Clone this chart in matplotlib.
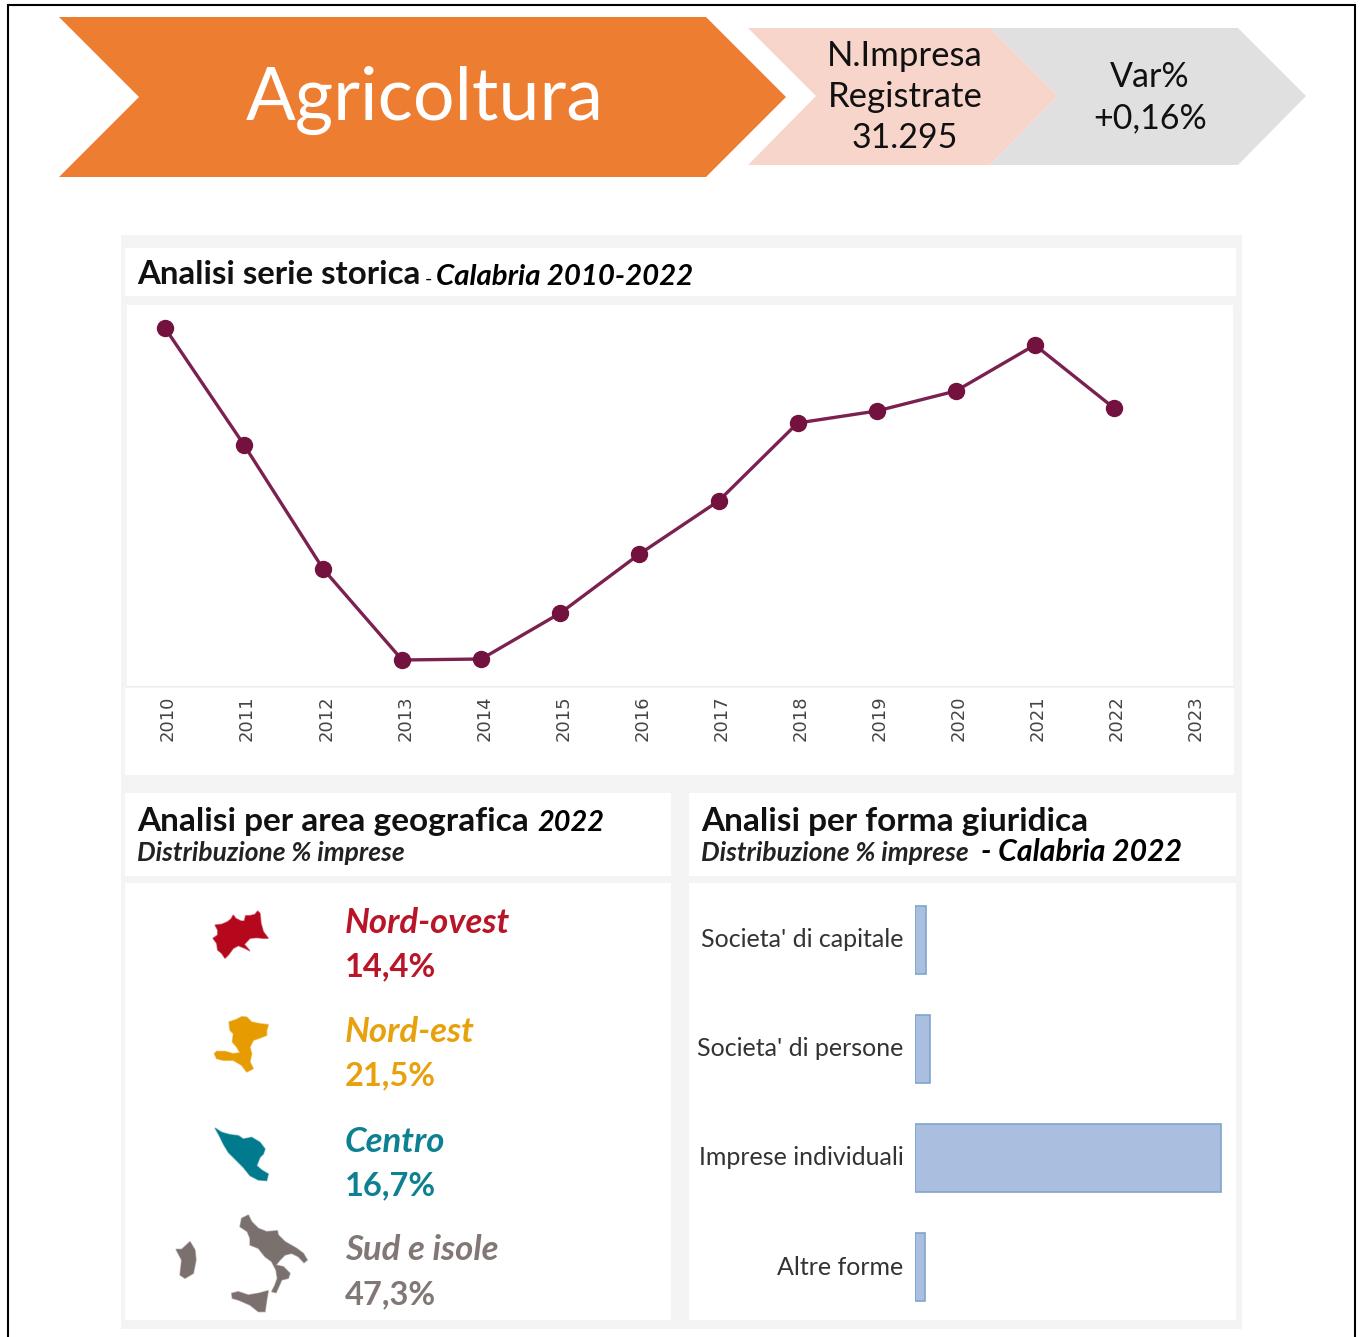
import matplotlib
matplotlib.use("Agg")
import matplotlib.pyplot as plt
from matplotlib.colors import to_rgba
from matplotlib.patches import Polygon, Rectangle
from matplotlib.transforms import ScaledTranslation

plt.rcParams['font.family'] = ['Lato', 'DejaVu Sans']

# data (no y scale shown, values estimated around 31.295 in 2022)
years = [2010, 2011, 2012, 2013, 2014, 2015, 2016, 2017, 2018, 2019, 2020, 2021, 2022]
imprese = [31695, 31110, 30490, 30035, 30040, 30270, 30565, 30830, 31220, 31280, 31380, 31610, 31295]
year_ticks = [2010, 2011, 2012, 2013, 2014, 2015, 2016, 2017, 2018, 2019, 2020, 2021, 2022, 2023]

forme = ["Societa' di capitale", "Societa' di persone", "Imprese individuali", "Altre forme"]
forme_pct = [3.2, 4.3, 89.5, 3.0]

aree = ["Nord-ovest", "Nord-est", "Centro", "Sud e isole"]
aree_lab = ["14,4%", "21,5%", "16,7%", "47,3%"]
aree_col = ["#B5081C", "#E69C00", "#007A8C", "#7A706E"]

W, H = 1360, 1337
fig = plt.figure(figsize=(13.6, 13.37), dpi=100, facecolor='white')

# background layer in pixel coords
bg = fig.add_axes([0, 0, 1, 1])
bg.set_xlim(0, W)
bg.set_ylim(H, 0)
bg.axis('off')


def panel(x0, y0, x1, y1, col='white'):
    bg.add_patch(Rectangle((x0, y0), x1 - x0, y1 - y0, fc=col, ec='none'))


def txt(x, y, s, size, **kw):
    bg.text(x, y, s, fontsize=size, va='baseline', **kw)


def axes_px(x0, y0, x1, y1):
    return fig.add_axes([x0 / W, 1 - y1 / H, (x1 - x0) / W, (y1 - y0) / H])


# black frame
bg.plot([8, 8, 1355, 1355], [H, 5, 5, H], color='black', lw=1.5, solid_joinstyle='miter')

# header arrows
bg.add_patch(Polygon([(59, 17), (706, 17), (786, 97), (706, 177), (59, 177), (139, 97)], fc='#ED7D31', ec='none'))
bg.add_patch(Polygon([(748, 28), (990, 28), (1058, 96), (990, 165), (748, 165), (816, 96)], fc='#F8D5CA', ec='none'))
bg.add_patch(Polygon([(990, 28), (1238, 28), (1306, 96), (1238, 165), (990, 165), (1058, 96)], fc='#E0E0E0', ec='none'))
txt(425, 120, "Agricoltura", 53, color='white', ha='center')
txt(905, 66, "N.Impresa", 25, color='#111111', ha='center')
txt(905, 107, "Registrate", 25, color='#111111', ha='center')
txt(905, 148, "31.295", 24.5, color='#111111', ha='center')
txt(1150, 87, "Var%", 24.5, color='#111111', ha='center')
txt(1150, 128, "+0,16%", 24.5, color='#111111', ha='center')

# dashboard panels
panel(121, 235, 1242, 1329, '#F4F4F4')
panel(125, 248, 1236, 296)
panel(127, 305, 1233, 686)
panel(125, 688, 1234, 775)
panel(125, 793, 671, 876)
panel(689, 793, 1236, 876)
panel(125, 883, 671, 1320)
panel(689, 883, 1236, 1320)

txt(137, 284, "Analisi serie storica", 23.8, weight='bold', color='#111111')
txt(425, 285, "-", 14, color='black')
txt(436, 285, "Calabria 2010-2022", 21.2, style='italic', weight='bold', color='black')
txt(137, 831, "Analisi per area geografica", 24, weight='bold', color='#111111')
txt(537, 831, "2022", 20.8, style='italic', weight='bold', color='black')
txt(137, 861, "Distribuzione % imprese", 19, style='italic', weight='bold', color='#222222')
txt(701, 831, "Analisi per forma giuridica", 24, weight='bold', color='#111111')
txt(701, 861, "Distribuzione % imprese", 19, style='italic', weight='bold', color='#222222')
txt(981, 861, "- Calabria 2022", 21.7, style='italic', weight='bold', color='black')

# line chart
ax = axes_px(127, 305, 1233, 686)
ax.plot(years, imprese, color='#7B2150', lw=2.4, marker='o', ms=11.5, mfc='#74123F', mec='#74123F')
ax.set_xlim(2010 - 0.4805, 2010 + 13.505)
ax.set_ylim(29905, 31810)
ax.set_xticks(year_ticks)
ax.set_xticklabels(year_ticks, rotation=90, fontsize=13, color='#444444', family='DejaVu Sans')
ax.tick_params(axis='x', length=0, pad=7)
for lab in ax.get_xticklabels():
    lab.set_transform(lab.get_transform() + ScaledTranslation(3 / 100, 0, fig.dpi_scale_trans))
ax.set_yticks([])
for s in ['top', 'left', 'right']:
    ax.spines[s].set_visible(False)
ax.spines['bottom'].set_color('#EEEEEE')
ax.patch.set_alpha(0)

# maps, traced by hand from 3x crops of the picture: (crop x, crop y, outlines)
map_shapes = [
    (205, 905, [[(30, 60), (50, 58), (68, 50), (78, 42), (85, 30), (92, 40), (108, 48), (118, 48), (122, 32), (135, 32),
                 (150, 28), (158, 18), (165, 25), (168, 55), (175, 80), (190, 100), (175, 100), (155, 98), (135, 100),
                 (118, 118), (135, 138), (120, 130), (100, 122), (85, 130), (70, 150), (60, 160), (50, 145), (38, 135),
                 (35, 115), (24, 100), (38, 90), (38, 75)]]),
    (205, 1012, [[(72, 30), (95, 22), (110, 14), (125, 15), (140, 30), (165, 35), (190, 38), (185, 55), (185, 70),
                  (165, 78), (145, 85), (135, 105), (140, 125), (135, 150), (145, 170), (125, 180), (110, 160), (85, 145),
                  (55, 145), (35, 140), (28, 125), (35, 118), (60, 118), (85, 125), (105, 122), (95, 105), (82, 90),
                  (85, 65), (75, 55)]]),
    (210, 1124, [[(15, 12), (35, 25), (60, 32), (85, 35), (100, 45), (125, 40), (150, 55), (165, 75), (160, 90),
                  (150, 100), (140, 125), (155, 138), (175, 150), (170, 170), (145, 168), (120, 155), (100, 130),
                  (75, 105), (55, 85), (40, 60), (28, 35)]]),
    (170, 1210, [[(235, 15), (245, 35), (265, 55), (290, 65), (322, 62), (325, 75), (345, 95), (380, 115), (400, 130),
                  (412, 150), (402, 158), (385, 140), (365, 130), (345, 135), (330, 150), (318, 165), (340, 170),
                  (360, 190), (355, 205), (335, 210), (330, 222), (318, 248), (305, 245), (315, 225), (322, 205),
                  (318, 180), (305, 155), (285, 140), (265, 115), (240, 105), (240, 85), (232, 65), (210, 50), (215, 25)],
                 [(185, 250), (205, 245), (235, 255), (265, 250), (295, 242), (290, 270), (285, 305), (265, 305),
                  (240, 285), (205, 270), (187, 265)],
                 [(18, 118), (35, 118), (60, 95), (75, 120), (78, 150), (70, 190), (45, 205), (30, 195), (35, 150)]]),
]
for (ox, oy, parts), c in zip(map_shapes, aree_col):
    for p in parts:
        pts = [(ox + a / 3, oy + b / 3) for a, b in p]
        bg.add_patch(Polygon(pts, fc=c, ec=to_rgba(c, 0.5), lw=1))

name_y = [933, 1042, 1152, 1260]
pct_y = [976, 1085, 1195, 1304]
for n, l, c, yn, yp in zip(aree, aree_lab, aree_col, name_y, pct_y):
    txt(345, yn, n, 25, style='italic', weight='bold', color=c, alpha=0.95)
    txt(345, yp, l, 23.5, weight='bold', color=c, alpha=0.95)

# bar chart
ax2 = axes_px(915, 883, 1236, 1320)
ax2.barh(range(len(forme)), forme_pct, height=0.622, color='#AABFDF', edgecolor='#7FA5CC', lw=1.2)
ax2.set_xlim(0, 93.9)
ax2.set_ylim(3.486, -0.5215)
ax2.set_yticks(range(len(forme)))
ax2.set_yticklabels(forme, fontsize=18, color='#333333')
ax2.tick_params(axis='y', length=0, pad=8.4)
for lab in ax2.get_yticklabels():
    lab.set_transform(lab.get_transform() + ScaledTranslation(0, 2 / 100, fig.dpi_scale_trans))
ax2.set_xticks([])
for s in ax2.spines.values():
    s.set_visible(False)
ax2.patch.set_alpha(0)

fig.savefig('out.png', dpi=100, facecolor='white')
